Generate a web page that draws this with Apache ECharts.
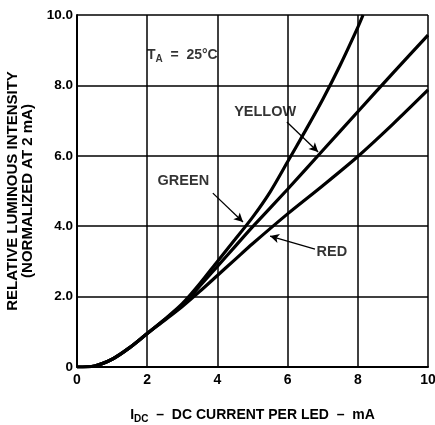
<!doctype html>
<html>
<head>
<meta charset="UTF-8">
<title>Relative luminous intensity vs DC current</title>
<script src="https://cdn.jsdelivr.net/npm/echarts@6/dist/echarts.min.js"></script>
<style>
  html, body { margin: 0; padding: 0; background: #fff; }
</style>
</head>
<body>
<div id="main" style="width:435px;height:425px;"></div>
<script>
// current (mA) vs relative intensity
var currentGreen  = [0, 0.5, 1, 1.5, 2, 2.5, 3, 3.5, 4, 4.5, 5, 5.5, 6, 6.5, 7, 7.5, 8, 8.15];
var valuesGreen   = [0, 0.03, 0.22, 0.55, 0.95, 1.36, 1.8, 2.37, 3.0, 3.62, 4.25, 4.97, 5.83, 6.7, 7.6, 8.58, 9.65, 10];
var currentYellow = [0, 0.5, 1, 1.5, 2, 2.5, 3, 3.5, 4, 4.5, 5, 6, 7, 8, 9, 10];
var valuesYellow  = [0, 0.03, 0.22, 0.55, 0.95, 1.35, 1.76, 2.3, 2.86, 3.42, 3.98, 5.05, 6.15, 7.25, 8.35, 9.43];
var currentRed    = [0, 0.5, 1, 1.5, 2, 2.5, 3, 3.5, 4, 4.5, 5, 6, 7, 8, 9, 10];
var valuesRed     = [0, 0.03, 0.22, 0.55, 0.95, 1.33, 1.72, 2.15, 2.6, 3.05, 3.5, 4.35, 5.15, 5.98, 6.9, 7.87];

var xTicks = ['0', '2', '4', '6', '8', '10'];
var yTicks = ['0', '2.0', '4.0', '6.0', '8.0', '10.0'];

// label text + where it sits, in data units
var labelNames = ['GREEN', 'YELLOW', 'RED'];
var labelPos   = [[3.03, 5.28], [5.36, 7.24], [7.26, 3.26]];
// arrows: [from, to]
var arrows = [
    [[3.87, 4.94], [4.73, 4.12]],
    [[5.98, 6.96], [6.87, 6.11]],
    [[6.78, 3.35], [5.5, 3.72]]
];

var FONT = 'Liberation Sans';

function pairs(xs, ys) {
    return xs.map(function (x, i) { return [x, ys[i]]; });
}

function curve(name, xs, ys) {
    return {
        name: name,
        type: 'line',
        data: pairs(xs, ys),
        smooth: 0.3,
        showSymbol: false,
        lineStyle: { color: '#000', width: 3.2 },
        z: 3
    };
}

var series = [
    curve('GREEN', currentGreen, valuesGreen),
    curve('YELLOW', currentYellow, valuesYellow),
    curve('RED', currentRed, valuesRed)
];

series.push({
    type: 'scatter',
    symbolSize: 0,
    data: labelPos.map(function (p, i) { return { value: p, name: labelNames[i] }; }),
    label: {
        show: true,
        position: 'inside',
        formatter: '{b}',
        color: '#000',
        fontFamily: FONT,
        fontWeight: 'bold',
        fontSize: 14.5
    },
    markLine: {
        silent: true,
        symbol: ['none', 'arrow'],
        symbolSize: [7, 9],
        label: { show: false },
        lineStyle: { color: '#000', width: 1.3, type: 'solid' },
        data: arrows.map(function (a) {
            return [{ coord: a[0] }, { coord: a[1] }];
        })
    },
    z: 5
});

// T_A = 25°C note
series.push({
    type: 'scatter',
    symbolSize: 0,
    data: [[3.0, 8.85]],
    label: {
        show: true,
        position: 'inside',
        formatter: '{t|T}{s|A}{t|  =  25°C}',
        rich: {
            t: { fontFamily: FONT, fontWeight: 'bold', fontSize: 14, color: '#000' },
            s: { fontFamily: FONT, fontWeight: 'bold', fontSize: 10, color: '#000', padding: [7, 0, 0, 0] }
        }
    }
});

var myChart = echarts.init(document.getElementById('main'));
myChart.setOption({
    animation: false,
    backgroundColor: '#fff',
    grid: { left: 77, right: 7, top: 15, bottom: 58, outerBoundsMode: 'none' },
    xAxis: {
        type: 'value',
        min: 0, max: 10, interval: 2,
        axisLine: { lineStyle: { color: '#000', width: 2 } },
        axisTick: { show: false },
        splitLine: { show: true, lineStyle: { color: '#000', width: 1.5 } },
        axisLabel: {
            color: '#000', fontFamily: FONT, fontWeight: 'bold', fontSize: 14, margin: 6,
            formatter: function (v) { return xTicks[v / 2]; }
        },
        name: '{i|I}{s|DC}{t|  –  DC CURRENT PER LED  –  mA}',
        nameLocation: 'middle',
        nameGap: 40,
        nameTextStyle: {
            rich: {
                i: { fontFamily: FONT, fontWeight: 'bold', fontSize: 14, color: '#000' },
                s: { fontFamily: FONT, fontWeight: 'bold', fontSize: 10, color: '#000', padding: [7, 0, 0, 0] },
                t: { fontFamily: FONT, fontWeight: 'bold', fontSize: 14, color: '#000' }
            }
        }
    },
    yAxis: {
        type: 'value',
        min: 0, max: 10, interval: 2,
        axisLine: { show: true, lineStyle: { color: '#000', width: 2 } },
        axisTick: { show: false },
        splitLine: { show: true, lineStyle: { color: '#000', width: 1.5 } },
        axisLabel: {
            color: '#000', fontFamily: FONT, fontWeight: 'bold', fontSize: 13.5, margin: 4,
            formatter: function (v) { return yTicks[v / 2]; }
        },
        name: 'RELATIVE LUMINOUS INTENSITY\n(NORMALIZED AT 2 mA)',
        nameLocation: 'middle',
        nameRotate: 90,
        nameGap: 26,
        nameTextStyle: {
            color: '#000', fontFamily: FONT, fontWeight: 'bold', fontSize: 15, lineHeight: 15
        }
    },
    series: series
});
</script>
</body>
</html>
